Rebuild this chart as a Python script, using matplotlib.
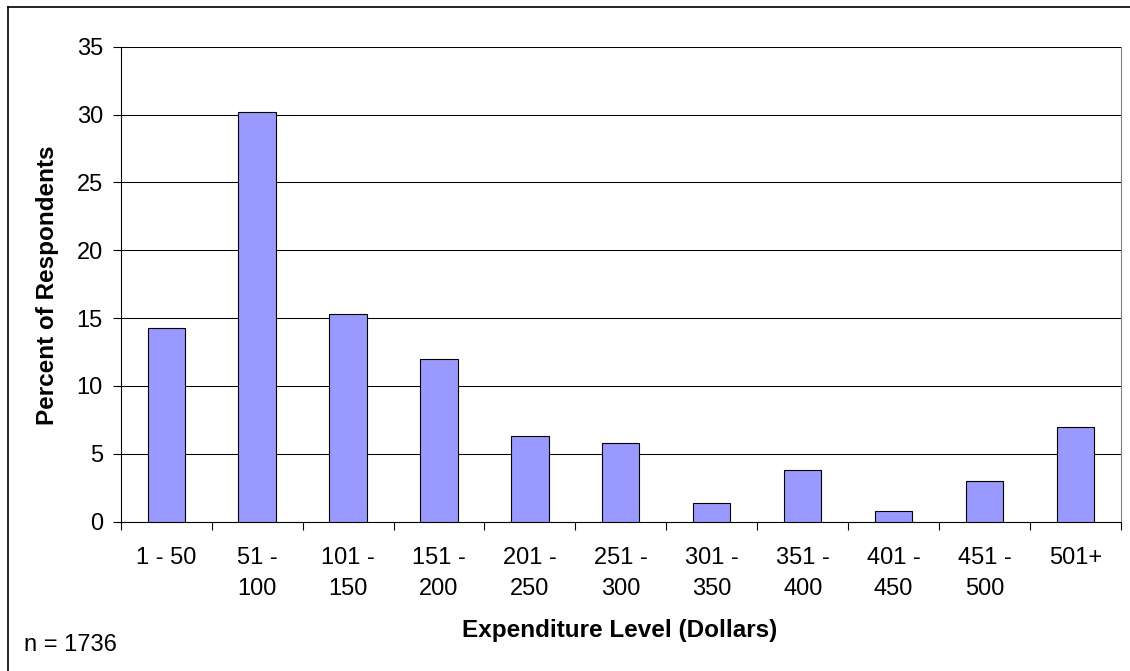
import matplotlib
matplotlib.use("Agg")
import matplotlib.pyplot as plt
from matplotlib.lines import Line2D
import numpy as np

plt.rcParams['font.family'] = ['Liberation Sans', 'DejaVu Sans']

# expenditure categories and share of respondents (%)
categories = ['1 - 50', '51 -\n100', '101 -\n150', '151 -\n200', '201 -\n250',
              '251 -\n300', '301 -\n350', '351 -\n400', '401 -\n450',
              '451 -\n500', '501+']
percents = [14.3, 30.2, 15.3, 12.0, 6.3, 5.8, 1.4, 3.8, 0.8, 3.0, 7.0]
y_ticks = [0, 5, 10, 15, 20, 25, 30, 35]
n_total = 1736

W, H = 1130, 671
fig = plt.figure(figsize=(W / 100, H / 100), dpi=100)
ax = fig.add_axes([120.7 / W, 1 - 521.7 / H, (1121 - 120.7) / W, (521.7 - 46.7) / H])

x = np.arange(len(categories))
ax.bar(x, percents, width=0.41, color='#9999FF', edgecolor='black', linewidth=0.8, zorder=3)

ax.set_xlim(-0.5, len(categories) - 0.5)
ax.set_ylim(0, 35)
ax.set_yticks(y_ticks)
ax.set_yticklabels([str(v) for v in y_ticks])

# category labels in the middle, tick marks between categories
ax.set_xticks(x)
ax.set_xticklabels(categories, linespacing=1.55)
ax.set_xticks(np.arange(len(categories) + 1) - 0.5, minor=True)
ax.tick_params(axis='x', which='major', length=0, pad=18, labelsize=17)
ax.tick_params(axis='x', which='minor', length=5.8, width=0.8, direction='out')
ax.tick_params(axis='y', length=5.8, width=0.8, direction='out', pad=7, labelsize=17)

ax.grid(axis='y', color='black', linewidth=0.75, zorder=0)
ax.set_axisbelow(True)
ax.spines['top'].set_visible(False)
ax.spines['right'].set_color('#808080')
ax.spines['left'].set_linewidth(0.8)
ax.spines['bottom'].set_linewidth(0.8)

fig.text(620 / W, 1 - 631 / H, 'Expenditure Level (Dollars)', ha='center', va='center',
         fontsize=17.5, fontweight='bold')
fig.text(48 / W, 1 - 285 / H, 'Percent of Respondents', ha='center', va='center',
         rotation=90, fontsize=17.5, fontweight='bold')
fig.text(24 / W, 1 - 645 / H, f'n = {n_total}', ha='left', va='center', fontsize=17)

# chart frame (only top and left edges are inside the image)
fig.add_artist(Line2D([8 / W, 1], [1 - 7 / H, 1 - 7 / H], color='black', linewidth=1.2,
                      transform=fig.transFigure))
fig.add_artist(Line2D([8 / W, 8 / W], [0, 1 - 7 / H], color='black', linewidth=1.2,
                      transform=fig.transFigure))

fig.savefig('out.png', dpi=100)
